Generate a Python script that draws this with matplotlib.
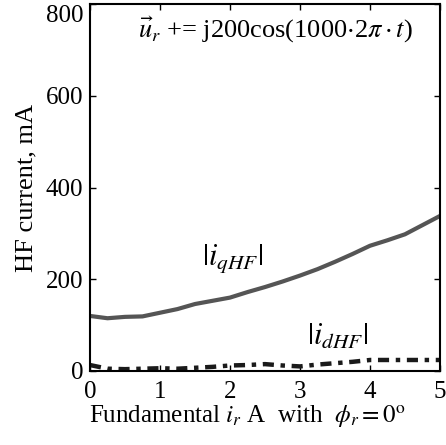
import matplotlib
matplotlib.use("Agg")
import matplotlib.pyplot as plt
import matplotlib.transforms as mtransforms

plt.rcParams['font.family'] = ['Liberation Serif', 'DejaVu Serif']
plt.rcParams['mathtext.fontset'] = 'stix'

# Fundamental current (A)
i_fund = [0, 0.25, 0.5, 0.75, 1.0, 1.25, 1.5, 1.75, 2.0, 2.25, 2.5,
          2.75, 3.0, 3.25, 3.5, 3.75, 4.0, 4.25, 4.5, 4.75, 5.0]
# HF current magnitudes (mA)
i_qhf = [120, 115, 118, 119, 127, 135, 146, 153, 160, 172, 183,
         195, 208, 222, 238, 255, 273, 285, 298, 318, 338]
i_dhf = [13, 5, 4, 5, 6, 5, 7, 9, 12, 13, 15,
         12, 10, 14, 17, 20, 24, 24, 24, 24, 24]

x_ticks = [0, 1, 2, 3, 4, 5]
y_ticks = [0, 200, 400, 600, 800]

fs = 18

fig = plt.figure(figsize=(4.46, 4.45), dpi=100)
ax = fig.add_axes([0.2018, 0.1663, 0.7847, 0.8247])

ax.plot(i_fund, i_qhf, color='#555555', lw=3.0, solid_capstyle='butt')
ax.plot(i_fund, i_dhf, color='#1a1a1a', lw=3.2, dashes=(2.5, 1.5, 1, 1.5))

ax.set_xlim(0, 5)
ax.set_ylim(0, 800)
ax.set_xticks(x_ticks)
ax.set_yticks(y_ticks)
ax.tick_params(direction='in', top=True, right=True, labelsize=fs, length=4,
               width=1)
ax.tick_params(axis='x', pad=7)
ax.tick_params(axis='y', pad=5)
for s in ax.spines.values():
    s.set_linewidth(1.5)

# keep the top tick label inside the canvas
for lbl in ax.get_yticklabels():
    if lbl.get_text() == '800':
        lbl.set_transform(lbl.get_transform() +
                          mtransforms.ScaledTranslation(0, -9 / 100, fig.dpi_scale_trans))

ax.set_ylabel('HF current, mA', fontsize=19, labelpad=6)
ax.set_xlabel(r'Fundamental $i_r$ A  with  $\phi_r = 0^{\mathrm{o}}$',
              fontsize=fs, labelpad=-4)
ax.xaxis.set_label_coords(0.45, -0.09)

ax.text(0.53, 0.93, r'$\vec{u}_r$ += j200cos(1000$\cdot$2$\pi\cdot t$)',
        transform=ax.transAxes, ha='center', va='center', fontsize=19)
ax.text(2.04, 245, r'$|i_{qHF}|$', ha='center', va='center', fontsize=22)
ax.text(3.53, 74, r'$|i_{dHF}|$', ha='center', va='center', fontsize=22)

fig.savefig('out.png', dpi=100)
